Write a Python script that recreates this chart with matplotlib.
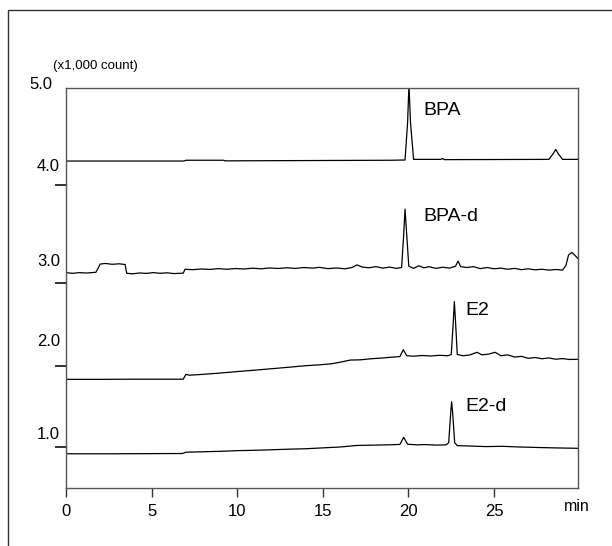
# Chromatogram of BPA, BPA-d, E2 and E2-d, four traces stacked on one axis

import matplotlib
matplotlib.use('Agg')
import matplotlib.pyplot as plt
from matplotlib.patches import Rectangle
from matplotlib.transforms import blended_transform_factory

plt.rcParams['font.family'] = ['Liberation Sans', 'DejaVu Sans']

# Traces as (time in min, signal in x1,000 count incl. stacking offset)
bpaTime = [0.0, 6.9, 7.0, 9.2, 9.3, 19.0, 19.8, 19.95, 20.03, 20.12, 20.3, 21.9, 22.0, 22.1,
           28.2, 28.45, 28.6, 28.75, 29.0, 29.9]
bpaSig = [4.156, 4.156, 4.165, 4.165, 4.158, 4.165, 4.168, 4.6, 5.04, 4.6, 4.175, 4.175, 4.185, 4.172,
          4.175, 4.24, 4.29, 4.24, 4.175, 4.175]

bpadTime = [0.0, 0.4, 0.8, 1.2, 1.6, 1.75, 2.0, 2.3, 2.7, 3.1, 3.45, 3.55, 3.9, 4.3, 4.7, 5.1, 5.5,
            5.9, 6.3, 6.85, 6.95, 7.4, 7.9, 8.4, 8.9, 9.4, 9.9, 10.4, 10.9, 11.4, 11.9, 12.4, 12.9,
            13.4, 13.9, 14.4, 14.8, 15.3, 15.8, 16.3, 16.7, 17.0, 17.3, 17.7, 18.1, 18.5, 18.9,
            19.3, 19.6, 19.72, 19.8, 19.9, 20.02, 20.3, 20.6, 20.9, 21.2, 21.6, 22.0, 22.4, 22.75,
            22.9, 23.05, 23.4, 23.8, 24.2, 24.6, 25.0, 25.4, 25.8, 26.2, 26.6, 27.0, 27.4, 27.8,
            28.2, 28.6, 29.0, 29.2, 29.35, 29.55, 29.75, 29.9]
bpadSig = [2.865, 2.858, 2.866, 2.861, 2.868, 2.870, 2.965, 2.972, 2.962, 2.968, 2.960, 2.858, 2.852,
           2.862, 2.857, 2.866, 2.858, 2.864, 2.855, 2.860, 2.905, 2.900, 2.908, 2.903, 2.912, 2.905,
           2.913, 2.908, 2.917, 2.910, 2.920, 2.914, 2.922, 2.915, 2.925, 2.918, 2.927, 2.912, 2.920,
           2.910, 2.925, 2.955, 2.930, 2.922, 2.935, 2.918, 2.930, 2.915, 2.925, 3.30, 3.60, 3.30,
           2.940, 2.915, 2.945, 2.922, 2.935, 2.915, 2.928, 2.918, 2.940, 3.000, 2.935, 2.925, 2.935,
           2.912, 2.925, 2.910, 2.918, 2.905, 2.915, 2.900, 2.910, 2.898, 2.905, 2.895, 2.902, 2.895,
           2.950, 3.070, 3.100, 3.060, 3.030]

e2Time = [0.0, 2.0, 4.0, 6.85, 7.0, 7.2, 8.0, 9.0, 10.0, 11.0, 12.0, 13.0, 14.0, 14.8, 15.5, 16.0,
          16.6, 17.2, 17.8, 18.4, 19.0, 19.5, 19.7, 19.9, 20.3, 20.8, 21.3, 21.8, 22.3, 22.5, 22.62,
          22.68, 22.75, 22.85, 23.2, 23.6, 24.0, 24.3, 24.7, 25.06, 25.4, 25.8, 26.2, 26.6, 27.0,
          27.4, 27.8, 28.2, 28.6, 29.0, 29.4, 29.9]
e2Sig = [1.632, 1.632, 1.634, 1.634, 1.690, 1.680, 1.690, 1.705, 1.722, 1.738, 1.755, 1.772, 1.790,
         1.800, 1.812, 1.830, 1.855, 1.858, 1.870, 1.878, 1.888, 1.895, 1.975, 1.905, 1.900, 1.908,
         1.902, 1.910, 1.905, 1.920, 2.300, 2.530, 2.300, 1.920, 1.905, 1.915, 1.945, 1.915, 1.925,
         1.945, 1.905, 1.915, 1.890, 1.898, 1.875, 1.885, 1.870, 1.880, 1.865, 1.872, 1.862, 1.864]

e2dTime = [0.0, 3.0, 6.8, 7.0, 8.0, 9.0, 10.0, 11.0, 12.0, 13.0, 14.0, 15.0, 16.0, 17.0, 18.0, 19.0,
           19.5, 19.65, 19.72, 19.8, 19.95, 20.5, 21.0, 21.6, 22.2, 22.35, 22.47, 22.52, 22.58, 22.7,
           22.85, 23.5, 24.5, 25.5, 26.5, 27.5, 28.5, 29.9]
e2dSig = [0.772, 0.772, 0.775, 0.790, 0.795, 0.800, 0.808, 0.812, 0.818, 0.825, 0.830, 0.840, 0.850,
          0.868, 0.872, 0.876, 0.880, 0.935, 0.962, 0.935, 0.882, 0.875, 0.878, 0.872, 0.875, 0.900,
          1.250, 1.373, 1.250, 0.900, 0.866, 0.862, 0.855, 0.858, 0.850, 0.845, 0.840, 0.835]

# Compound names and where they sit
peakNames = ['BPA', 'BPA-d', 'E2', 'E2-d']
peakLabelTime = [20.85, 20.85, 23.3, 23.3]
peakLabelSig = [4.742, 3.516, 2.426, 1.324]

# Y labels of each trace and the offset ticks
yLabels = ['5.0', '4.0', '3.0', '2.0', '1.0']
yLabelPos = [5.035, 4.087, 3.0, 2.075, 1.0]
yLabelX = [-0.027, -0.012, -0.012, -0.012, -0.012]
yTickPos = [3.879, 2.746, 1.786, 0.850]
xTicks = [0, 5, 10, 15, 20, 25]

fig = plt.figure(figsize=(6.12, 5.46), dpi=100)
ax = fig.add_axes([0.1078, 0.1062, 0.8366, 0.7326])

# Outer frame around the whole picture
fig.add_artist(Rectangle((8 / 612, -0.05), 1.1, 1.05 - 10.5 / 546, transform=fig.transFigure,
                         fill=False, edgecolor='#333333', linewidth=1.0))

for t, s in [(bpaTime, bpaSig), (bpadTime, bpadSig), (e2Time, e2Sig), (e2dTime, e2dSig)]:
    ax.plot(t, s, color='black', linewidth=0.9)

for name, t, s in zip(peakNames, peakLabelTime, peakLabelSig):
    ax.text(t, s, name, fontsize=14, ha='left', va='center')

ax.set_xlim(0, 29.9)
ax.set_ylim(0.376, 5.0)

ax.set_xticks(xTicks)
ax.set_xticklabels([str(x) for x in xTicks], fontsize=12)
ax.tick_params(axis='x', direction='out', length=6.5, width=1.0, pad=5, color='#333333')

ax.set_yticks(yTickPos)
ax.set_yticklabels([])
ax.tick_params(axis='y', direction='out', length=8, width=1.3, color='#222222')

trans = blended_transform_factory(ax.transAxes, ax.transData)
for lab, pos, xp in zip(yLabels, yLabelPos, yLabelX):
    ax.text(xp, pos, lab, fontsize=12, ha='right', va='center', transform=trans)

ax.text(-0.025, 5.254, '(x1,000 count)', fontsize=9.5, ha='left', va='center', transform=trans)
ax.text(0.973, -0.045, 'min', fontsize=11.5, ha='left', va='center', transform=ax.transAxes)

for side in ['left', 'bottom', 'top', 'right']:
    ax.spines[side].set_color('#555555')
    ax.spines[side].set_linewidth(1.0)

fig.savefig('out.png', dpi=100)
